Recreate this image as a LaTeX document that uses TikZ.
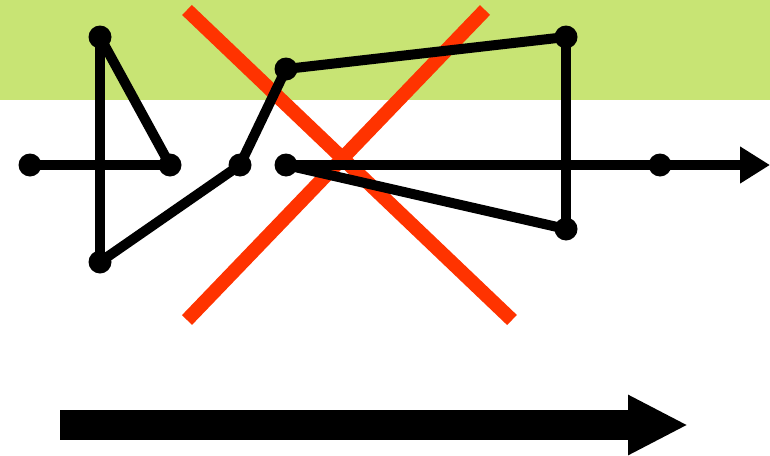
\documentclass[tikz,border=0pt]{standalone}
\usepackage{tikz}
\usetikzlibrary{arrows.meta}
\definecolor{bandgreen}{RGB}{200,228,116}
\definecolor{crossred}{RGB}{255,51,0}
\tikzset{
    pathdot/.style={circle, fill=black, inner sep=0pt, minimum size=23pt},
    pathline/.style={line width=10pt, draw=black},
    pathout/.style={line width=10pt, draw=black, -{Triangle[length=30pt,width=35pt]}},
    crossline/.style={line width=14pt, draw=crossred},
    bigarrow/.style={line width=30pt, draw=black, -{Triangle[length=60pt,width=56pt]}}
}

\begin{document}
\begin{tikzpicture}[x=1pt, y=-1pt]
    \useasboundingbox (0,0) rectangle (770,455);
    \fill[bandgreen] (0,0) rectangle (770,100);

    % Crossing-out marks
    \coordinate (r1a) at (187,10);
    \coordinate (r1b) at (512,320);
    \coordinate (r2a) at (485,10);
    \coordinate (r2b) at (187,320);
    \draw[crossline] (r1a) -- (r1b);
    \draw[crossline] (r2a) -- (r2b);

    % Path vertices
    \node[pathdot] (a) at (30,165) {};
    \node[pathdot] (b) at (100,37) {};
    \node[pathdot] (c) at (170,165) {};
    \node[pathdot] (d) at (100,262) {};
    \node[pathdot] (e) at (240,165) {};
    \node[pathdot] (f) at (286,69) {};
    \node[pathdot] (g) at (566,37) {};
    \node[pathdot] (h) at (286,165) {};
    \node[pathdot] (i) at (566,229) {};
    \node[pathdot] (j) at (660,165) {};
    \coordinate (out) at (770,165);

    % Segments
    \draw[pathline] (a.center) -- (c.center);
    \draw[pathline] (b.center) -- (d.center);
    \draw[pathline] (b.center) -- (c.center);
    \draw[pathline] (d.center) -- (e.center);
    \draw[pathline] (e.center) -- (f.center);
    \draw[pathline] (f.center) -- (g.center);
    \draw[pathline] (g.center) -- (i.center);
    \draw[pathline] (i.center) -- (h.center);
    \draw[pathout] (h.center) -- (j.center) -- (out);

    % Direction arrow
    \coordinate (dirstart) at (60,425);
    \coordinate (dirend) at (688,425);
    \draw[bigarrow] (dirstart) -- (dirend);
\end{tikzpicture}
\end{document}
